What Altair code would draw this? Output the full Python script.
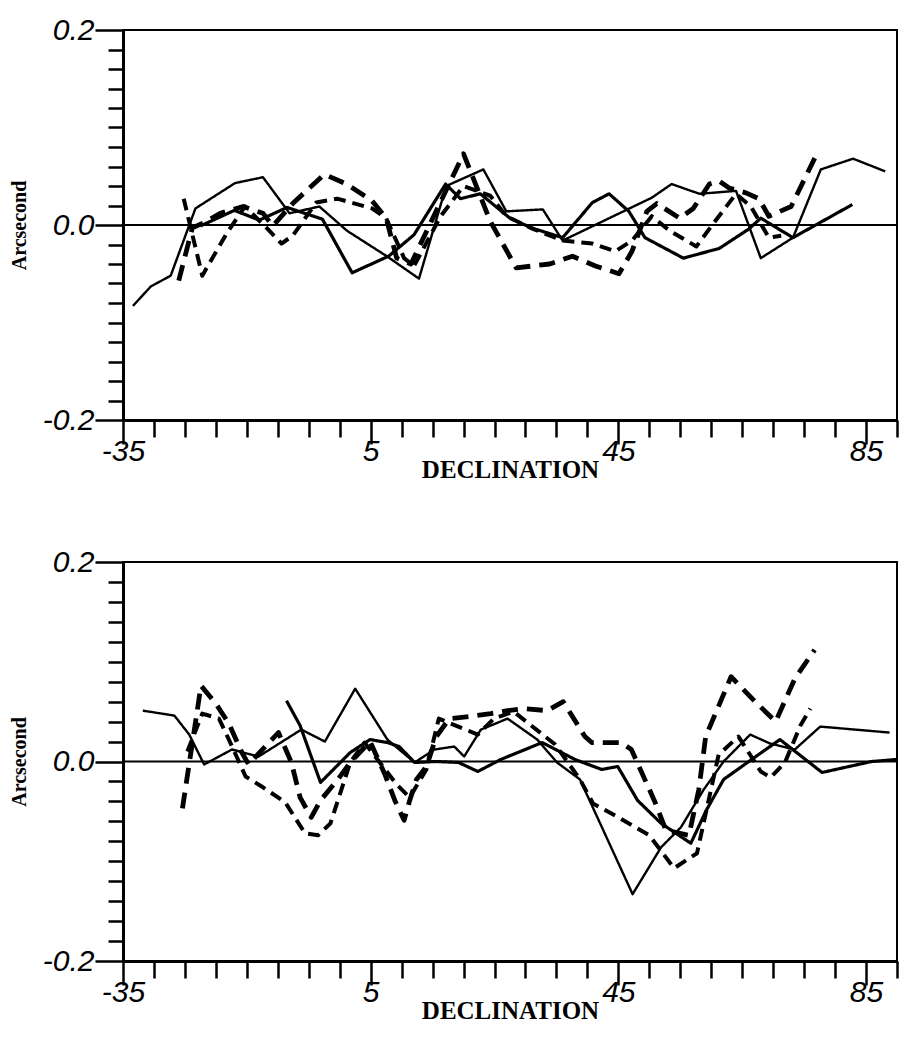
import altair as alt
import pandas as pd

# ---------------- data (declination, arcsecond) ----------------
# Upper panel
top_thin_dec = [-33.4, -30.5, -27.3, -23.3, -16.9, -12.4, -8.1, -3.3, 1.2, 7.6, 12.8, 17.2, 23.2, 26.9,
                32.8, 36.0, 50.4, 53.6, 58.1, 64.0, 68.0, 73.2, 77.7, 82.9, 88.1]
top_thin_val = [-0.083, -0.063, -0.052, 0.017, 0.043, 0.049, 0.012, 0.019, -0.006, -0.032, -0.055, 0.040,
                0.057, 0.014, 0.016, -0.016, 0.028, 0.042, 0.032, 0.035, -0.034, -0.013, 0.057, 0.068, 0.055]

top_thick_dec = [-22.5, -17.0, -13.0, -8.5, -2.8, 2.0, 7.9, 12.0, 17.1, 19.5, 22.7, 27.5, 31.0, 36.0,
                 40.8, 43.5, 46.7, 49.3, 55.5, 61.3, 66.1, 68.0, 73.2, 82.8]
top_thick_val = [-0.001, 0.015, 0.005, 0.018, 0.006, -0.049, -0.032, -0.010, 0.042, 0.027, 0.032, 0.007,
                 -0.003, -0.013, 0.023, 0.032, 0.014, -0.013, -0.034, -0.024, -0.004, 0.007, -0.013, 0.021]

top_tdash_dec = [-25.2, -22.2, -18.2, -15.3, -11.8, -9.4, -7.6, -3.8, -0.4, 5.2, 7.5, 10.4, 12.0, 16.3,
                 20.0, 24.3, 26.9, 31.2, 36.0, 40.8, 44.5, 47.2, 50.4, 53.3, 57.6, 60.4, 64.0, 66.4,
                 69.3, 71.3]
top_tdash_val = [0.027, -0.052, -0.008, 0.019, -0.003, -0.019, -0.011, 0.023, 0.027, 0.017, 0.007, -0.034,
                 -0.042, 0.009, 0.040, 0.030, 0.009, -0.004, -0.016, -0.019, -0.027, -0.016, 0.009,
                 -0.006, -0.022, 0.002, 0.032, 0.019, -0.013, -0.011]

top_kdash_dec = [-26.0, -23.8, -21.4, -19.3, -15.6, -12.4, -10.8, -7.6, -2.5, 1.1, 5.2, 7.5, 9.2, 11.5,
                 20.0, 24.3, 28.5, 33.9, 37.6, 41.3, 45.1, 47.2, 49.6, 51.2, 54.9, 57.1, 59.7, 61.3,
                 62.9, 65.6, 67.7, 69.3, 72.9, 76.9]
top_kdash_val = [-0.057, -0.003, 0.004, 0.012, 0.019, 0.012, -0.001, 0.022, 0.052, 0.042, 0.025, 0.007,
                 -0.034, -0.040, 0.073, 0.004, -0.044, -0.040, -0.032, -0.042, -0.050, -0.027, 0.014,
                 0.022, 0.007, 0.017, 0.042, 0.045, 0.038, 0.033, 0.027, 0.009, 0.019, 0.071]

# Lower panel
bot_thin_dec = [-31.8, -26.7, -24.3, -21.9, -17.4, -13.1, -6.2, -2.4, 2.5, 7.7, 12.1, 15.3, 18.5, 20.1,
                22.8, 27.1, 31.9, 35.1, 38.8, 47.3, 51.9, 55.1, 58.8, 62.0, 66.3, 69.5, 73.5, 77.6, 88.8]
bot_thin_val = [0.051, 0.046, 0.027, -0.003, 0.012, 0.005, 0.032, 0.020, 0.073, 0.022, -0.001, 0.012,
                0.015, 0.005, 0.032, 0.043, 0.022, -0.001, -0.018, -0.133, -0.086, -0.066, -0.028,
                0.000, 0.027, 0.018, 0.012, 0.035, 0.029]

bot_thick_dec = [-8.6, -6.4, -3.1, 1.7, 4.9, 7.7, 9.6, 12.1, 15.6, 19.2, 22.3, 26.0, 32.7, 38.0, 42.3,
                 44.9, 48.1, 51.9, 56.7, 59.2, 62.0, 67.2, 71.1, 77.9, 85.9, 89.9]
bot_thick_val = [0.061, 0.036, -0.021, 0.009, 0.022, 0.019, 0.015, -0.001, 0.000, -0.001, -0.010, 0.002,
                 0.019, 0.002, -0.008, -0.005, -0.039, -0.062, -0.082, -0.049, -0.018, 0.005, 0.022,
                 -0.011, 0.000, 0.002]

bot_tdash_dec = [-24.6, -22.2, -19.5, -17.9, -15.2, -12.6, -8.8, -5.6, -3.5, -1.5, 1.7, 4.0, 9.2, 11.3,
                 14.0, 16.0, 22.3, 24.9, 28.1, 34.8, 38.8, 40.9, 44.4, 50.0, 54.0, 57.7, 61.2, 64.4,
                 68.0, 69.6, 71.9, 74.4, 76.0]
bot_tdash_val = [0.010, 0.048, 0.043, 0.022, -0.015, -0.025, -0.041, -0.072, -0.074, -0.062, -0.001,
                 0.019, -0.023, -0.036, -0.008, 0.043, 0.027, 0.043, 0.050, 0.017, -0.018, -0.042,
                 -0.054, -0.074, -0.107, -0.092, 0.007, 0.025, -0.010, -0.016, -0.001, 0.036, 0.053]

bot_kdash_dec = [-25.4, -22.4, -20.0, -17.9, -15.8, -14.7, -12.8, -9.9, -7.8, -6.4, -4.6, -3.1, -0.3,
                 1.7, 4.9, 7.3, 8.9, 10.4, 11.3, 12.4, 14.0, 15.6, 17.7, 20.8, 24.4, 27.1, 29.7, 33.5,
                 36.1, 39.6, 40.7, 45.5, 47.1, 50.8, 52.7, 56.4, 58.0, 59.1, 63.2, 67.1, 70.4, 73.5, 76.7]
bot_kdash_val = [-0.047, 0.076, 0.058, 0.038, 0.009, -0.003, 0.010, 0.029, -0.001, -0.036, -0.056,
                 -0.039, -0.018, -0.001, 0.020, -0.013, -0.039, -0.059, -0.039, -0.018, -0.005, 0.025,
                 0.043, 0.045, 0.048, 0.051, 0.053, 0.051, 0.060, 0.025, 0.019, 0.019, 0.012, -0.039,
                 -0.069, -0.074, -0.028, 0.025, 0.085, 0.060, 0.040, 0.083, 0.112]

x_ticks = [-35, -30, -25, -20, -15, -10, -5, 0, 5, 10, 15, 20, 25, 30, 35, 40, 45, 50, 55, 60, 65, 70,
           75, 80, 85, 90]
y_ticks = [-0.2, -0.18, -0.16, -0.14, -0.12, -0.1, -0.08, -0.06, -0.04, -0.02, 0.0, 0.02, 0.04, 0.06,
           0.08, 0.1, 0.12, 0.14, 0.16, 0.18, 0.2]

series_names = ["thin", "thick", "thin dashed", "thick dashed"]
series_width = [2.4, 4.8, 2.4, 4.8]
series_dash = [[1, 0], [1, 0], [12, 7], [16, 9]]


def frame(decs, vals):
    rows = []
    for name, d, v in zip(series_names, decs, vals):
        for a, b in zip(d, v):
            rows.append({"series": name, "dec": a, "val": b})
    return pd.DataFrame(rows)


top_df = frame([top_thin_dec, top_thick_dec, top_tdash_dec, top_kdash_dec],
               [top_thin_val, top_thick_val, top_tdash_val, top_kdash_val])
bot_df = frame([bot_thin_dec, bot_thick_dec, bot_tdash_dec, bot_kdash_dec],
               [bot_thin_val, bot_thick_val, bot_tdash_val, bot_kdash_val])

x_axis = alt.Axis(
    values=x_ticks,
    title="DECLINATION",
    titleFontSize=25,
    labelExpr="datum.value == -35 ? '-35' : (datum.value == 5 ? '5' : (datum.value == 45 ? '45' : (datum.value == 85 ? '85' : '')))",
    tickSize={"condition": {"test": "indexof([-35, 5, 45, 85], datum.value) >= 0", "value": 24}, "value": 17},
    labelPadding=-8,
    titlePadding=-9,
)
y_axis = alt.Axis(
    values=y_ticks,
    title="Arcsecond",
    labelExpr="abs(datum.value) < 0.001 ? '0.0' : (datum.value > 0.19 ? '0.2' : (datum.value < -0.19 ? '-0.2' : ''))",
    tickSize={"condition": {"test": "abs(datum.value) < 0.001 || abs(datum.value) > 0.19", "value": 28}, "value": 15},
    labelPadding=1,
    titlePadding=13,
)


def panel(df, height):
    zero = alt.Chart(pd.DataFrame({"v": [0.0]})).mark_rule(color="black", strokeWidth=2).encode(
        y=alt.Y("v:Q", scale=alt.Scale(domain=[-0.2, 0.2], nice=False), axis=y_axis)
    )
    lines = alt.Chart(df).mark_line(color="black", strokeJoin="round").encode(
        x=alt.X("dec:Q", scale=alt.Scale(domain=[-35, 90], nice=False, zero=False), axis=x_axis),
        y=alt.Y("val:Q", scale=alt.Scale(domain=[-0.2, 0.2], nice=False), axis=y_axis),
        detail="series:N",
        strokeWidth=alt.StrokeWidth("series:N", scale=alt.Scale(domain=series_names, range=series_width),
                                    legend=None),
        strokeDash=alt.StrokeDash("series:N", scale=alt.Scale(domain=series_names, range=series_dash),
                                  legend=None),
    )
    return alt.layer(zero, lines).properties(width=774, height=height)


chart = alt.vconcat(panel(top_df, 390), panel(bot_df, 399), spacing=142, bounds="flush").properties(
    padding={"left": 0, "top": 6, "right": 0, "bottom": 0},
    background="white",
).configure_view(stroke="black", strokeWidth=2).configure_axis(
    grid=False,
    domainColor="black",
    domainWidth=3,
    tickColor="black",
    tickWidth=2.5,
    labelColor="black",
    labelFont="Liberation Sans",
    labelFontStyle="italic",
    labelFontSize=30,
    labelOverlap=False,
    labelFlush=False,
    labelBound=False,
    titleColor="black",
    titleFont="Liberation Serif",
    titleFontWeight="bold",
    titleFontSize=20,
)

chart.save("out.html", embed_options={"renderer": "svg", "actions": False})
